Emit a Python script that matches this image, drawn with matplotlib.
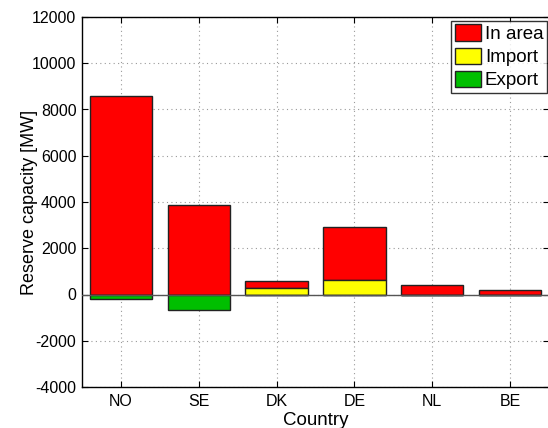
import matplotlib
matplotlib.use("Agg")
import matplotlib.pyplot as plt
import numpy as np

plt.rcParams['font.family'] = ['Liberation Sans', 'DejaVu Sans']
plt.rcParams['axes.unicode_minus'] = False

countries = ["NO", "SE", "DK", "DE", "NL", "BE"]
import_mw = [0, 0, 270, 620, 0, 0]
in_area_mw = [8600, 3850, 330, 2280, 400, 190]
export_mw = [-200, -660, 0, 0, -15, -10]

fig = plt.figure(figsize=(5.48, 4.28), dpi=100)
ax = fig.add_axes([82 / 548, 41 / 428, 467 / 548, 370 / 428])

x = np.arange(1, len(countries) + 1)
w = 0.8
edge = dict(edgecolor="#222222", linewidth=1.0)
b_area = ax.bar(x, in_area_mw, w, bottom=import_mw, color="#ff0000", label="In area", zorder=3, **edge)
b_imp = ax.bar(x, import_mw, w, color="#ffff00", label="Import", zorder=3, **edge)
b_exp = ax.bar(x, export_mw, w, color="#00bf00", label="Export", zorder=3, **edge)
ax.axhline(0, color="#555555", linewidth=1.0, zorder=4)

ax.set_xlim(0.5, 6.5)
ax.set_ylim(-4000, 12000)
ax.set_xticks(x)
ax.set_xticklabels(countries)
ax.set_yticks(np.arange(-4000, 12001, 2000))
ax.tick_params(direction="in", top=True, right=True, labelsize=11.5, length=4, pad=4)
ax.tick_params(axis="x", pad=5)
ax.grid(True, linestyle=(0, (1, 3)), color="#9a9a9a", linewidth=0.8, zorder=0)
ax.set_axisbelow(True)
for s in ax.spines.values():
    s.set_linewidth(1.0)

ax.set_xlabel("Country", fontsize=13.5, labelpad=2.5)
ax.set_ylabel("Reserve capacity [MW]", fontsize=13, labelpad=-4)

leg = ax.legend(handles=[b_area, b_imp, b_exp], loc="upper right",
                fontsize=13.5, frameon=True, fancybox=False, borderpad=0.2,
                handlelength=1.4, handleheight=0.95, handletextpad=0.2,
                labelspacing=0.25, borderaxespad=0.0, bbox_to_anchor=(0.996, 0.99))
leg.get_frame().set_edgecolor("black")
leg.get_frame().set_linewidth(1.0)

fig.savefig("out.png", dpi=100)
